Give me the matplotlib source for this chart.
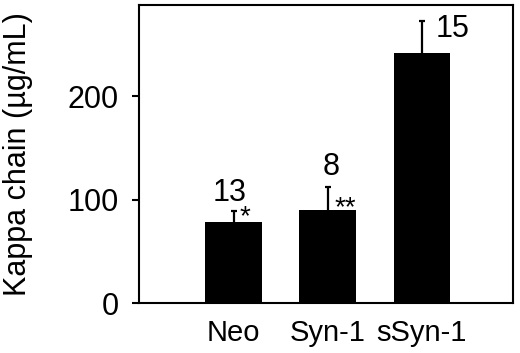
import matplotlib
matplotlib.use("Agg")
import matplotlib.pyplot as plt

categories = ["Neo", "Syn-1", "sSyn-1"]
values = [79, 90, 242.5]
errors = [10.5, 22, 30.5]
n_labels = ["13", "8", "15"]
sig_labels = ["*", "**", ""]
yticks = [0, 100, 200]

plt.rcParams['font.family'] = ['Liberation Sans', 'DejaVu Sans']

fig = plt.figure(figsize=(5.2, 3.53), dpi=100)
ax = fig.add_axes([0.268, 0.141, 0.719, 0.845])

x = list(range(len(categories)))
ax.bar(x, values, width=0.6, color='black', zorder=2)
eb = ax.errorbar(x, values, yerr=[[0]*len(values), errors], fmt='none',
                 ecolor='black', elinewidth=1.6, capsize=2.5, capthick=1.6, zorder=1)
# hide the lower caps (at bar tops)
for cl in eb[1]:
    if list(cl.get_ydata()) == list(values):
        cl.set_visible(False)

n_dx = [-0.04, 0.04, 0.33]
n_dy = [17, 20, -7.5]
sig_dx = [0.12, 0.19, 0]
sig_dy = [4, 2, 0]
for i in x:
    top = values[i] + errors[i]
    ax.text(i + n_dx[i], top + n_dy[i], n_labels[i], ha='center', va='center', fontsize=22)
    if sig_labels[i]:
        ax.text(i + sig_dx[i], values[i] + sig_dy[i], sig_labels[i],
                ha='center', va='center', fontsize=20)

ax.set_xlim(-1.0, 2.97)
ax.set_ylim(0, 288.5)
ax.set_yticks(yticks)
ax.set_xticks(x)
ax.set_xticklabels(categories, fontsize=21)
ax.tick_params(axis='x', length=0, pad=11)
ax.tick_params(axis='y', direction='out', length=5, width=1.5, labelsize=22, pad=10)
ax.set_ylabel("Kappa chain (µg/mL)", fontsize=22)
ax.yaxis.set_label_coords(-0.285, 0.5)
for s in ax.spines.values():
    s.set_linewidth(1.5)

fig.savefig("out.png", dpi=100)
